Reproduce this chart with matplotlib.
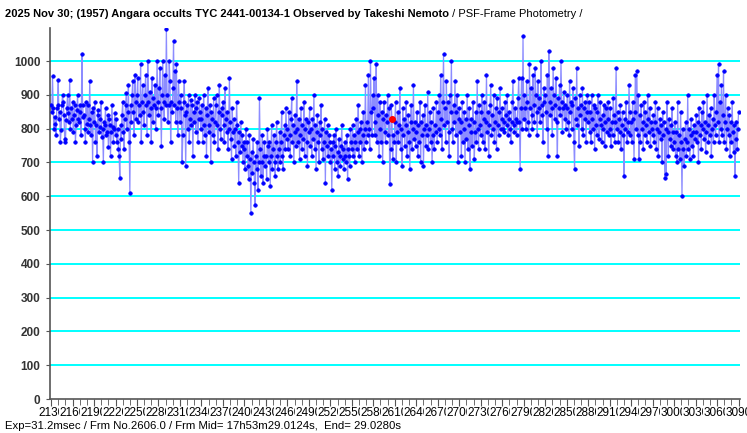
import numpy as np
import matplotlib
matplotlib.use('Agg')
import matplotlib.pyplot as plt
from matplotlib.ticker import MultipleLocator

# light curve, one value per frame starting at frame 2130
start_frame = 2130
flux_blocks = [
    [870, 850, 955, 860, 800, 835, 815, 780, 860, 870, 945, 830, 850, 760, 795, 870, 900, 880, 840, 770, 760, 825, 860, 900, 845, 820, 945, 800, 860, 830],
    [880, 790, 840, 870, 760, 810, 855, 900, 830, 820, 870, 850, 780, 1020, 870, 835, 840, 800, 760, 880, 815, 870, 790, 830, 940, 810, 780, 850, 700, 860],
    [820, 880, 760, 810, 720, 855, 840, 790, 805, 830, 880, 775, 800, 700, 820, 810, 860, 780, 790, 840, 745, 830, 810, 720, 790, 870, 805, 760, 800, 845],
    [780, 830, 760, 800, 740, 720, 655, 810, 770, 840, 880, 790, 740, 830, 870, 905, 800, 850, 930, 760, 610, 870, 820, 900, 940, 850, 780, 960, 880, 830],
    [900, 950, 820, 870, 840, 990, 760, 880, 930, 850, 810, 900, 960, 870, 780, 1000, 880, 840, 910, 860, 760, 950, 820, 890, 870, 930, 800, 860, 1000, 880],
    [840, 920, 980, 860, 750, 900, 1000, 880, 830, 960, 870, 1095, 900, 820, 870, 1000, 940, 760, 880, 850, 920, 1060, 870, 970, 820, 990, 860, 780, 940, 880],
    [820, 900, 860, 700, 780, 880, 940, 840, 690, 850, 870, 800, 900, 760, 830, 885, 810, 870, 720, 850, 820, 900, 790, 860, 880, 760, 830, 890, 850, 800],
    [830, 870, 760, 900, 810, 780, 860, 720, 840, 920, 790, 810, 870, 700, 850, 830, 780, 890, 760, 820, 870, 900, 810, 740, 850, 930, 800, 770, 860, 840],
    [880, 810, 760, 920, 830, 790, 850, 740, 800, 950, 820, 770, 710, 860, 790, 830, 750, 800, 720, 880, 810, 760, 640, 790, 730, 820, 750, 780, 700, 760],
    [740, 680, 800, 720, 760, 690, 650, 780, 710, 550, 730, 670, 770, 700, 640, 575, 720, 680, 760, 620, 700, 890, 740, 660, 700, 780, 640, 720, 760, 690],
    [720, 650, 800, 750, 700, 760, 630, 720, 810, 680, 740, 780, 700, 660, 760, 820, 720, 680, 740, 790, 700, 760, 850, 720, 680, 780, 810, 740, 860, 770],
    [800, 740, 850, 780, 720, 830, 890, 760, 810, 700, 790, 840, 750, 940, 800, 760, 830, 710, 780, 860, 740, 810, 770, 880, 720, 800, 830, 760, 690, 820],
    [790, 860, 750, 800, 720, 830, 770, 900, 740, 810, 680, 790, 840, 760, 700, 820, 780, 870, 740, 800, 710, 760, 830, 640, 790, 750, 810, 720, 780, 760],
    [700, 740, 620, 760, 720, 780, 680, 750, 800, 700, 730, 660, 770, 720, 690, 750, 810, 710, 740, 680, 760, 720, 700, 780, 650, 740, 720, 690, 800, 760],
    [740, 810, 720, 780, 700, 760, 830, 740, 790, 870, 720, 800, 760, 820, 700, 780, 850, 740, 800, 930, 760, 820, 780, 960, 800, 740, 1000, 850, 780, 900],
    [860, 950, 780, 820, 990, 760, 900, 840, 720, 880, 800, 760, 850, 700, 830, 880, 790, 760, 840, 820, 900, 780, 860, 635, 740, 870, 830, 710, 780, 760],
    [820, 880, 700, 790, 850, 760, 810, 920, 740, 800, 690, 860, 780, 830, 750, 810, 880, 720, 790, 840, 760, 680, 820, 870, 740, 800, 930, 770, 820, 750],
    [790, 850, 720, 810, 760, 880, 700, 820, 780, 840, 690, 800, 870, 750, 810, 780, 910, 740, 800, 850, 760, 820, 700, 780, 860, 740, 810, 790, 880, 760],
    [850, 800, 900, 780, 960, 830, 740, 880, 1020, 810, 860, 760, 940, 820, 880, 790, 720, 900, 850, 1000, 800, 760, 870, 820, 940, 780, 850, 900, 700, 830],
    [860, 790, 820, 720, 880, 760, 800, 850, 700, 830, 770, 900, 740, 810, 860, 680, 790, 830, 750, 880, 820, 710, 790, 850, 760, 940, 800, 740, 870, 810],
    [780, 850, 900, 760, 830, 880, 740, 820, 960, 790, 850, 720, 810, 870, 930, 780, 840, 800, 900, 760, 820, 860, 740, 890, 810, 780, 850, 920, 800, 830],
    [860, 800, 820, 790, 880, 840, 810, 900, 780, 830, 850, 800, 760, 820, 880, 940, 810, 790, 860, 830, 780, 820, 890, 950, 820, 680, 860, 950, 800, 1075],
    [830, 900, 860, 800, 940, 880, 820, 780, 990, 860, 920, 840, 800, 960, 870, 820, 980, 900, 850, 780, 940, 860, 890, 820, 1000, 870, 840, 760, 920, 880],
    [900, 850, 800, 960, 720, 1030, 880, 840, 920, 860, 780, 980, 900, 830, 870, 950, 820, 720, 890, 860, 930, 840, 1000, 880, 790, 860, 910, 830, 870, 800],
    [860, 900, 820, 780, 940, 850, 880, 800, 870, 920, 760, 680, 890, 830, 980, 810, 860, 750, 900, 840, 870, 800, 920, 780, 860, 830, 880, 760, 850, 900],
    [820, 880, 790, 850, 760, 900, 830, 800, 870, 740, 860, 810, 780, 850, 900, 770, 830, 880, 810, 760, 840, 800, 870, 750, 820, 860, 790, 830, 880, 780],
    [800, 860, 750, 820, 780, 890, 840, 760, 820, 980, 800, 850, 760, 830, 790, 870, 740, 810, 850, 780, 660, 830, 800, 880, 760, 820, 790, 930, 850, 780],
    [820, 760, 880, 830, 710, 850, 960, 800, 970, 780, 900, 710, 840, 760, 870, 800, 820, 740, 880, 780, 850, 810, 760, 900, 830, 790, 860, 750, 820, 800],
    [780, 840, 760, 820, 880, 740, 800, 860, 720, 790, 830, 770, 810, 700, 850, 780, 820, 655, 800, 665, 880, 790, 720, 830, 770, 810, 750, 860, 790, 740],
    [760, 820, 720, 790, 700, 880, 740, 780, 710, 850, 760, 600, 800, 740, 690, 770, 820, 720, 760, 900, 740, 800, 710, 780, 830, 750, 790, 720, 810, 770],
    [790, 840, 760, 820, 700, 860, 780, 810, 740, 850, 800, 880, 770, 820, 730, 790, 900, 810, 760, 840, 780, 860, 720, 800, 830, 760, 900, 810, 780, 850],
    [960, 820, 990, 760, 880, 800, 930, 780, 840, 970, 760, 820, 900, 740, 800, 860, 780, 840, 720, 820, 760, 880, 790, 730, 810, 660, 770, 820, 740, 800],
    [850],
]
marked_frame = 2606

title_bold = "2025 Nov 30; (1957) Angara occults TYC 2441-00134-1 Observed by Takeshi Nemoto"
title_rest = " / PSF-Frame Photometry /"
footer = "Exp=31.2msec / Frm No.2606.0 / Frm Mid= 17h53m29.0124s,  End= 29.0280s"

flux = np.array([v for blk in flux_blocks for v in blk], dtype=float)
frames = start_frame + np.arange(len(flux))

plt.rcParams['font.family'] = ['Liberation Sans Narrow', 'Liberation Sans', 'DejaVu Sans']

W, H = 747, 433
fig = plt.figure(figsize=(W / 100, H / 100), dpi=100)
ax = fig.add_axes([50 / W, 34 / H, 690 / W, 371 / H])

# cyan grid
for yv in range(100, 1001, 100):
    ax.axhline(yv, color='#00ffff', lw=1.4, zorder=1)

ax.plot(frames, flux, color='#8c8cff', lw=0.9, zorder=2)
ax.plot(frames, flux, ls='none', marker='o', ms=2.6, color='#0000ff', mec='#0000ff', mew=0.4, zorder=3)
mi = np.where(frames == marked_frame)[0][0]
ax.plot(frames[mi], flux[mi], ls='none', marker='o', ms=4, color='#ff0000', zorder=4)

ax.set_xlim(2128.5, 3092)
ax.set_ylim(0, 1098)

for s in ['top', 'right']:
    ax.spines[s].set_visible(False)
for s in ['left', 'bottom']:
    ax.spines[s].set_color('#555555')
    ax.spines[s].set_linewidth(1.2)

ax.yaxis.set_major_locator(MultipleLocator(100))
ax.tick_params(axis='y', length=3, color='#555555', labelsize=8.5, labelcolor='#333333', pad=4)
for lb in ax.get_yticklabels():
    lb.set_fontweight('bold')

ax.xaxis.set_major_locator(MultipleLocator(30))
ax.xaxis.set_minor_locator(MultipleLocator(10))
ax.tick_params(axis='x', which='major', length=5, color='#555555', labelsize=8.5, pad=1)
ax.tick_params(axis='x', which='minor', length=4, color='#555555')
for lb in ax.get_xticklabels():
    lb.set_bbox(dict(facecolor='white', edgecolor='none', pad=0.3))

t1 = fig.text(5 / W, 1 - 17 / H, title_bold, fontsize=8, fontweight='bold', ha='left', va='baseline')
fig.canvas.draw()
bb = t1.get_window_extent()
fig.text(bb.x1 / W, 1 - 17 / H, title_rest, fontsize=8, ha='left', va='baseline')
fig.text(5 / W, 1 - 429 / H, footer, fontsize=8.2, ha='left', va='baseline')

fig.savefig('out.png', dpi=100)
